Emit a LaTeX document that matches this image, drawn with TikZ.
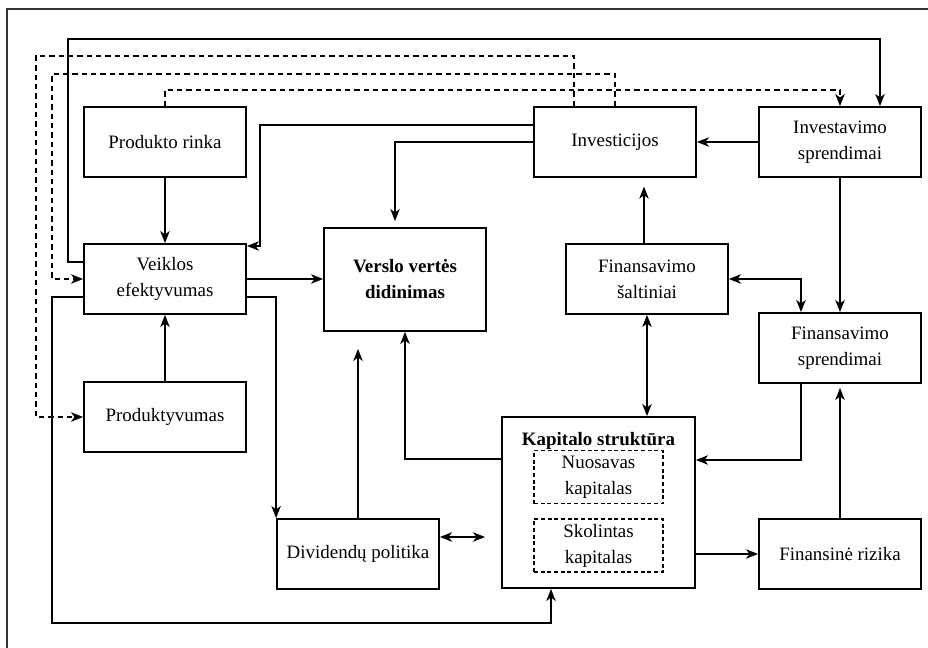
\documentclass[tikz,border=0pt]{standalone}
\usepackage{fontspec}
\setmainfont{Liberation Serif}
\usetikzlibrary{arrows.meta}
\begin{document}
\begin{tikzpicture}[x=0.75pt,y=-0.75pt,
  every node/.style={font=\fontsize{14.2pt}{19.5pt}\selectfont},
  box/.style={draw, line width=1.35pt, rectangle, inner sep=0pt,
    minimum width=121.5pt, minimum height=52.5pt, align=center},
  subbox/.style={draw, line width=0.9pt, dash pattern=on 3pt off 2pt,
    inner sep=0pt, minimum width=96.75pt, minimum height=39.75pt, align=center},
  link/.style={line width=1.35pt, -{Stealth[length=9pt,width=7pt,inset=2.5pt]}},
  biLink/.style={line width=1.35pt, {Stealth[length=9pt,width=7pt,inset=2.5pt]}-{Stealth[length=9pt,width=7pt,inset=2.5pt]}},
  dlink/.style={link, dash pattern=on 4pt off 3pt},
]
\useasboundingbox (0,0) rectangle (928,648);
% outer frame
\draw[line width=1.2pt, black!80] (7,660) -- (7,9) -- (940,9);

% boxes
\node[box] (rinka)  at (165,142)   {Produkto rinka};
\node[box] (inv)    at (615,142)   {Investicijos};
\node[box] (invspr) at (840,142)   {Investavimo\\sprendimai};
\node[box] (veik)   at (165,279)   {Veiklos\\efektyvumas};
\node[box, minimum height=77.25pt, font=\fontsize{14.2pt}{19.5pt}\selectfont\bfseries]
           (verslo) at (405,279.5) {Verslo vertės\\didinimas};
\node[box] (fsalt)  at (647,279)   {Finansavimo\\šaltiniai};
\node[box] (fspr)   at (840,348)   {Finansavimo\\sprendimai};
\node[box] (prod)   at (165,417)   {Produktyvumas};
\node[box] (div)    at (358,554)   {Dividendų politika};
\node[box, minimum width=144.75pt, minimum height=128.25pt] (kap) at (598.5,502.5) {};
\node[font=\fontsize{14.2pt}{19.5pt}\selectfont\bfseries] (kaptitle) at (598.5,441) {Kapitalo struktūra};
\node[subbox] (nuos) at (598.5,477)   {Nuosavas\\kapitalas};
\node[subbox] (skol) at (598.5,545.5) {Skolintas\\kapitalas};
\node[box] (rizika) at (840,554)   {Finansinė rizika};

% solid connectors
\draw[link] (rinka) -- (veik);
\draw[link] (prod) -- (veik);
\draw[link] (veik.east) -- (verslo.west |- veik.east);
\draw[link] (inv.west |- 0,125) -| (260,246) -- (veik.east |- 0,246);
\draw[link, shorten >=4.5pt] (inv.west) -| (verslo.north -| 395,0);
\draw[link] (invspr.west) -- (inv.east);
\draw[link] (veik.west |- 0,262) -- (68,262) -- (68,39) -| (invspr.north -| 880,0);
\draw[link] (invspr) -- (fspr);
\draw[link, shorten >=6.5pt] (fsalt.north -| 644,0) -- (inv.south -| 644,0);
\draw[biLink] (fsalt.south) -- (kap.north -| fsalt.south);
\draw[biLink] (fsalt.east) -| (fspr.north -| 801,0);
\draw[link] (fspr.south -| 801,0) |- (kap.east |- 0,460);
\draw[link, shorten >=3pt] (rizika) -- (fspr);
\draw[link] (kap.east |- 0,554) -- (rizika.west |- 0,554);
\draw[link] (kap.west |- 0,459) -| (verslo.south);
\draw[link, shorten >=12.75pt] (div.north) -- (verslo.south -| div.north);
\draw[link] (veik.east |- 0,297) -| (div.north west);
\draw[link] (veik.west |- 0,297) -- (52,297) -- (52,623) -| (kap.south -| 551,0);
\draw[biLink, shorten >=12pt] (div.east |- 0,537) -- (kap.west |- 0,537);

% dashed connectors
\draw[dlink] (inv.north -| 574,0) -- (574,56) -- (36,56) |- (prod.west);
\draw[dlink] (inv.north -| 615,0) -- (615,74) -- (52,74) |- (veik.west);
\draw[dlink] (rinka.north) |- (840,90) -- (invspr.north -| 840,0);
\end{tikzpicture}
\end{document}
